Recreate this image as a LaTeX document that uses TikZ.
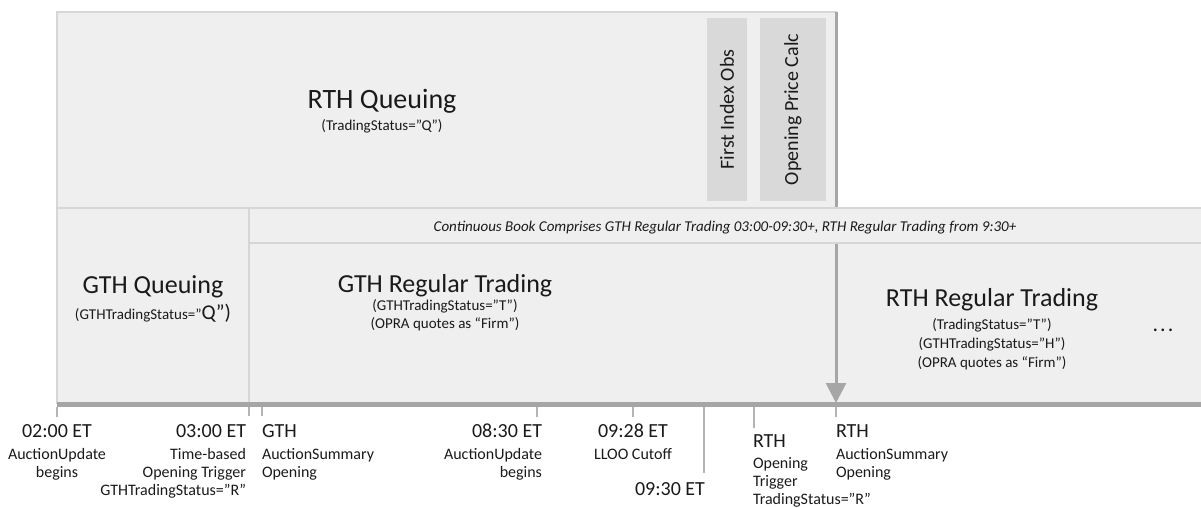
\documentclass[tikz,border=0pt]{standalone}
\usepackage{fontspec}
\setmainfont{Carlito}
\usetikzlibrary{arrows.meta}
\definecolor{boxfill}{HTML}{EFEFEF}
\definecolor{boxline}{HTML}{D6D6D6}
\definecolor{darkbar}{HTML}{D9D9D9}
\definecolor{axisc}{HTML}{A6A6A6}
\definecolor{tickc}{HTML}{B4B4B4}
\definecolor{ink}{HTML}{1A1A1A}
\tikzset{
  box/.style={draw=boxline, fill=boxfill, line width=1.5pt, outer sep=0pt, inner sep=0pt, anchor=north west},
  graybox/.style={fill=darkbar, draw=none, inner sep=0pt, outer sep=0pt, anchor=north west},
  txt/.style={inner sep=0pt, outer sep=0pt, anchor=base, text=ink},
  bigtxt/.style={txt, font=\fontsize{26}{30}\selectfont},
  smalltxt/.style={txt, font=\fontsize{15}{18}\selectfont},
  timetxt/.style={txt, font=\fontsize{20}{24}\selectfont},
  labtxt/.style={txt, font=\fontsize{16}{19}\selectfont},
  vtxt/.style={inner sep=0pt, outer sep=0pt, anchor=center, rotate=90, text=ink, font=\fontsize{20}{24}\selectfont},
  tickline/.style={draw=tickc, line width=1.5pt},
  axisline/.style={draw=axisc, line width=5pt},
  vline/.style={draw=axisc, line width=3pt, -{Triangle[width=20pt,length=20pt]}},
}
\begin{document}
\begin{tikzpicture}[x=1pt,y=-1pt]
\useasboundingbox (0,0) rectangle (1201,508);
% boxes
\node[box, minimum width=779pt, minimum height=196pt] (rthq) at (57,12) {};
\node[graybox, minimum width=40pt, minimum height=183pt] (fio) at (707,18) {};
\node[graybox, minimum width=66pt, minimum height=183pt] (opc) at (760,18) {};
\node[box, minimum width=192pt, minimum height=195pt] (gthq) at (57,208) {};
\node[box, minimum width=587pt, minimum height=160pt] (gthr) at (249,243) {};
\node[box, minimum width=370pt, minimum height=160pt] (rthr) at (836,243) {};
% vertical RTH line with arrow
\draw[vline] (rthq.north east) -- (rthr.south west);
% continuous book bar
\node[box, minimum width=955pt, minimum height=35pt] (cbar) at (249,208) {};
% timeline
\coordinate (tlstart) at (57,404.5);
\coordinate (tlend) at (1201,404.5);
\draw[axisline] (tlstart) -- (tlend);
% ticks
\coordinate (a1) at (57,407);  \coordinate (b1) at (57,417);
\coordinate (a2) at (249,407); \coordinate (b2) at (249,416);
\coordinate (a3) at (262,407); \coordinate (b3) at (262,416);
\coordinate (a4) at (537,407); \coordinate (b4) at (537,417);
\coordinate (a5) at (633,407); \coordinate (b5) at (633,417);
\coordinate (a6) at (704,407); \coordinate (b6) at (704,473);
\coordinate (a7) at (754,407); \coordinate (b7) at (754,428);
\coordinate (a8) at (836,407); \coordinate (b8) at (836,417);
\foreach \i in {1,...,8} {\draw[tickline] (a\i) -- (b\i);}
% texts in boxes
\node[txt, font=\fontsize{28}{32}\selectfont] (rthqT) at (382,109) {RTH Queuing};
\node[smalltxt] (rthqS) at (382,131) {(TradingStatus=”Q”)};
\node[vtxt] (fioT) at (fio.center) {First Index Obs};
\node[vtxt] (opcT) at (opc.center) {Opening Price Calc};
\node[bigtxt] (gthqT) at (153,293) {GTH Queuing};
\node[smalltxt] (gthqS) at (153,319) {(GTHTradingStatus=”{\fontsize{21}{24}\selectfont Q”)}};
\node[txt, font=\fontsize{15}{18}\selectfont\itshape] (cbarT) at (725,231) {Continuous Book Comprises GTH Regular Trading 03:00-09:30+, RTH Regular Trading from 9:30+};
\node[bigtxt] (gthrT) at (445,292) {GTH Regular Trading};
\node[smalltxt] (gthrS1) at (445,310) {(GTHTradingStatus=”T”)};
\node[smalltxt] (gthrS2) at (445,328) {(OPRA quotes as “Firm”)};
\node[bigtxt] (rthrT) at (992,306) {RTH Regular Trading};
\node[smalltxt] (rthrS1) at (992,329) {(TradingStatus=”T”)};
\node[smalltxt] (rthrS2) at (992,348) {(GTHTradingStatus=”H”)};
\node[smalltxt] (rthrS3) at (992,367) {(OPRA quotes as “Firm”)};
\node[txt, font=\fontsize{22}{26}\selectfont] (dots) at (1163,331) {.\kern2pt.\kern2pt.};
% timeline labels
\node[timetxt] (t1) at (57,437) {02:00 ET};
\node[labtxt] (t1a) at (57,459) {AuctionUpdate};
\node[labtxt] (t1b) at (57,477) {begins};
\node[timetxt, anchor=base east] (t2) at (246,437) {03:00 ET};
\node[labtxt, anchor=base east] (t2a) at (246,459) {Time-based};
\node[labtxt, anchor=base east] (t2b) at (246,477) {Opening Trigger};
\node[labtxt, anchor=base east] (t2c) at (246,495) {GTHTradingStatus=”R”};
\node[timetxt, anchor=base west] (t3) at (262,437) {GTH};
\node[labtxt, anchor=base west] (t3a) at (262,459) {AuctionSummary};
\node[labtxt, anchor=base west] (t3b) at (262,477) {Opening};
\node[timetxt, anchor=base east] (t4) at (542,437) {08:30 ET};
\node[labtxt, anchor=base east] (t4a) at (542,459) {AuctionUpdate};
\node[labtxt, anchor=base east] (t4b) at (542,477) {begins};
\node[timetxt] (t5) at (633,437) {09:28 ET};
\node[labtxt] (t5a) at (633,459) {LLOO Cutoff};
\node[timetxt] (t6) at (670,495) {09:30 ET};
\node[timetxt, anchor=base west] (t7) at (753,447) {RTH};
\node[labtxt, anchor=base west] (t7a) at (753,468) {Opening};
\node[labtxt, anchor=base west] (t7b) at (753,486) {Trigger};
\node[labtxt, anchor=base west] (t7c) at (753,504) {TradingStatus=”R”};
\node[timetxt, anchor=base west] (t8) at (836,437) {RTH};
\node[labtxt, anchor=base west] (t8a) at (836,459) {AuctionSummary};
\node[labtxt, anchor=base west] (t8b) at (836,477) {Opening};
\end{tikzpicture}
\end{document}
